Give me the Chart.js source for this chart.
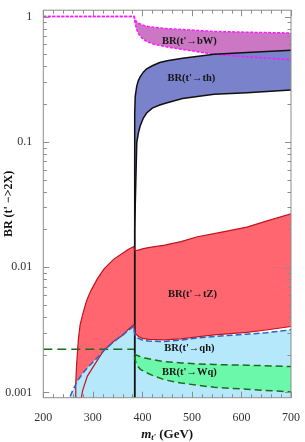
<!DOCTYPE html>
<html><head><meta charset="utf-8">
<script src="https://cdn.jsdelivr.net/npm/chart.js@4.4.1/dist/chart.umd.min.js"></script>
<style>html,body{margin:0;padding:0;background:#fff;}canvas{display:block;}</style>
</head><body>
<canvas id="c" width="305" height="442"></canvas>
<script>
// ---- axis ranges / ticks ----
const Y_MIN = 0.000908, Y_MAX = 1.125;
const BELOW = 0.0008; // value just under the visible axis (curve leaves the frame)
const xTicks = [200, 300, 400, 500, 600, 700];
const yTicks = [0.001, 0.01, 0.1, 1];

// ---- BR(t' -> bW) band ----
const bwX     = [200, 383.5, 385, 388, 392, 398, 405, 412, 425, 452, 478, 511, 545, 611, 700];
const bwUpper = [1, 1, 0.96, 0.91, 0.885, 0.865, 0.845, 0.835, 0.82, 0.80, 0.79, 0.775, 0.762, 0.75, 0.74];
const bwLower = [1, 1, 0.90, 0.80, 0.73, 0.68, 0.645, 0.625, 0.60, 0.57, 0.55, 0.525, 0.50, 0.478, 0.453];

// ---- BR(t' -> th) band ----
const thX     = [383.6, 384, 385, 385.5, 388.7, 392, 395.5, 402, 408.6, 420, 435, 450, 481, 545, 611, 700];
const thUpper = [BELOW, 0.06, 0.17, 0.23, 0.28, 0.31, 0.33, 0.36, 0.383, 0.405, 0.43, 0.445, 0.465, 0.50, 0.517, 0.539];
const thLower = [BELOW, 0.004, 0.02, 0.03, 0.099, 0.118, 0.134, 0.155, 0.17, 0.186, 0.197, 0.205, 0.222, 0.24, 0.247, 0.26];

// ---- BR(t' -> tZ) band ----
const tzX     = [264.4, 265.5, 267, 269, 271, 274.3, 279.5, 283, 286.2, 289, 296.2, 309.3, 322.6, 342.4, 362.3, 372, 382.5, 384, 386, 392, 400, 412, 445, 478, 511, 545, 611, 650, 700];
const tzUpper = [BELOW, 0.0012, 0.0016, 0.0021, 0.0027, 0.00346, 0.0042, 0.0047, 0.0052, 0.0056, 0.0065, 0.0081, 0.0097, 0.0116, 0.0131, 0.0139, 0.0146, 0.0138, 0.0136, 0.0137, 0.0140, 0.0143, 0.0150, 0.0160, 0.0175, 0.0185, 0.0209, 0.0233, 0.0266];
const tzLower = [BELOW, BELOW, BELOW, BELOW, BELOW, BELOW, 0.00104, 0.00115, 0.00125, 0.00135, 0.0015, 0.00181, 0.00218, 0.00256, 0.0029, 0.0032, 0.00346, 0.0031, 0.00295, 0.0028, 0.0027, 0.00265, 0.00263, 0.00268, 0.00278, 0.00288, 0.00302, 0.00315, 0.00336];

// ---- BR(t' -> qh) upper edge (band reaches below the axis) ----
const qhX     = [247, 259.6, 269.6, 279.5, 289.4, 309.3, 322.6, 342.5, 355.7, 370, 382.5, 384, 386, 392, 400, 412, 445, 478, 511, 545, 611, 650, 700];
const qhUpper = [BELOW, 0.00104, 0.00125, 0.00142, 0.00158, 0.0019, 0.00216, 0.00255, 0.0028, 0.0031, 0.00336, 0.0030, 0.00285, 0.0027, 0.00262, 0.00257, 0.00255, 0.00262, 0.00272, 0.0028, 0.00292, 0.0030, 0.00316];

// ---- BR(t' -> Wq) ----
const wqFlatX = [200, 383];
const wqFlat  = [0.00221, 0.00221];
const wqX     = [383.8, 386, 390, 396, 405, 418, 445, 478, 511, 545, 611, 700];
const wqUpper = [0.00205, 0.0020, 0.00197, 0.00193, 0.00188, 0.00184, 0.00176, 0.00172, 0.00169, 0.00167, 0.00165, 0.00161];
const wqLower = [0.00195, 0.00178, 0.00163, 0.00153, 0.00146, 0.00138, 0.00126, 0.00119, 0.00114, 0.0011, 0.00106, 0.00101];

// ---- in-plot labels (text + anchor in data coordinates) ----
const bandLabels = ["BR(t'\u2192bW)", "BR(t'\u2192th)", "BR(t'\u2192tZ)", "BR(t'\u2192qh)", "BR(t'\u2192Wq)"];
const labelX = [495, 499, 501, 495, 495];
const labelY = [0.63, 0.324, 0.0061, 0.00226, 0.00144];

const SERIF = '"Liberation Serif", "Times New Roman", serif';
const pts = (xs, ys) => xs.map((v, i) => ({x: v, y: ys[i]}));
function line(xs, ys, o) {
  return Object.assign({data: pts(xs, ys), pointRadius: 0, tension: 0, fill: false, borderWidth: 1.5}, o);
}

const GREEN_L = '#1d6b1d', BLUE_L = '#2a63c4', RED_L = '#c01420', MAG_L = '#ff19ff';
const datasets = [
  line(wqX, wqUpper, {borderColor: GREEN_L, borderDash: [7, 4], fill: '+1', backgroundColor: '#6cf8aa'}),
  line(wqX, wqLower, {borderColor: GREEN_L, borderDash: [7, 4]}),
  line(qhX, qhUpper, {borderColor: BLUE_L, borderDash: [6, 3], fill: 'start', backgroundColor: '#b4e8fa'}),
  line(tzX, tzUpper, {borderColor: RED_L, borderWidth: 1.2, fill: '+1', backgroundColor: '#ff6670'}),
  line(tzX, tzLower, {borderColor: RED_L, borderWidth: 1.2}),
  line(thX, thUpper, {borderColor: '#111', fill: '+1', backgroundColor: '#7a82cc'}),
  line(thX, thLower, {borderColor: '#111'}),
  line(bwX, bwUpper, {borderColor: MAG_L, borderDash: [3, 1.5], fill: '+1', backgroundColor: '#cc77c4'}),
  line(bwX, bwLower, {borderColor: MAG_L, borderDash: [3, 1.5]}),
  line(wqFlatX, wqFlat, {borderColor: GREEN_L, borderDash: [9, 5]})
];

const framePlugin = {
  id: 'frame',
  afterDraw(chart) {
    const {ctx, chartArea: a, scales: {x, y}} = chart;
    ctx.save();
    ctx.strokeStyle = '#8c8c8c';
    ctx.lineWidth = 1;
    ctx.strokeRect(a.left, a.top, a.right - a.left, a.bottom - a.top);
    ctx.beginPath();
    for (let v = 200; v <= 700; v += 20) {
      const px = Math.round(x.getPixelForValue(v)) + 0.5;
      const len = v % 100 === 0 ? 6 : 3.5;
      ctx.moveTo(px, a.bottom); ctx.lineTo(px, a.bottom - len);
      ctx.moveTo(px, a.top); ctx.lineTo(px, a.top + len);
    }
    for (let d = -4; d <= 0; d++) {
      for (let k = 1; k <= 9; k++) {
        const v = k * Math.pow(10, d);
        if (v < Y_MIN || v > Y_MAX) continue;
        const py = Math.round(y.getPixelForValue(v)) + 0.5;
        const len = k === 1 ? 6 : 3.5;
        ctx.moveTo(a.left, py); ctx.lineTo(a.left + len, py);
        ctx.moveTo(a.right, py); ctx.lineTo(a.right - len, py);
      }
    }
    ctx.stroke();

    // band labels
    ctx.fillStyle = '#151515';
    ctx.font = 'bold 10.5px ' + SERIF;
    ctx.textAlign = 'center';
    ctx.textBaseline = 'middle';
    bandLabels.forEach((t, i) => ctx.fillText(t, x.getPixelForValue(labelX[i]), y.getPixelForValue(labelY[i])));

    // x-axis title  m_t' (GeV)
    const parts = [
      {t: 'm', f: 'italic bold 13px ' + SERIF, dy: 0},
      {t: "t'", f: 'italic bold 8.5px ' + SERIF, dy: 2.5},
      {t: ' (GeV)', f: 'bold 13px ' + SERIF, dy: 0}
    ];
    let w = 0;
    parts.forEach(p => { ctx.font = p.f; p.w = ctx.measureText(p.t).width; w += p.w; });
    let cx = (a.left + a.right) / 2 - w / 2;
    ctx.textAlign = 'left';
    ctx.textBaseline = 'alphabetic';
    parts.forEach(p => { ctx.font = p.f; ctx.fillText(p.t, cx, 437.5 + p.dy); cx += p.w; });
    ctx.restore();
  }
};

new Chart(document.getElementById('c'), {
  type: 'line',
  data: {datasets},
  options: {
    responsive: false,
    animation: false,
    layout: {padding: {top: 2, right: 10, left: 0, bottom: 0}},
    elements: {point: {radius: 0}, line: {tension: 0}},
    scales: {
      x: {
        type: 'linear', min: 200, max: 700,
        afterBuildTicks: s => { s.ticks = xTicks.map(v => ({value: v})); },
        ticks: {color: '#333', font: {family: SERIF, size: 12}, padding: 5, maxRotation: 0, autoSkip: false,
                callback: v => String(v)},
        grid: {display: false},
        border: {display: false},
        afterFit: s => { s.height = 44.3; }
      },
      y: {
        type: 'logarithmic', min: Y_MIN, max: Y_MAX,
        afterBuildTicks: s => { s.ticks = yTicks.map(v => ({value: v})); },
        ticks: {color: '#333', font: {family: SERIF, size: 12}, padding: 3, autoSkip: false,
                callback: v => String(v)},
        grid: {display: false},
        border: {display: false},
        title: {display: true, text: "BR (t' \u2212>2X)", color: '#111',
                font: {family: SERIF, size: 12, weight: 'bold'}, padding: {top: 2, bottom: 0}},
        afterFit: s => { s.width = 43.3; }
      }
    },
    plugins: {
      legend: {display: false},
      tooltip: {enabled: false},
      filler: {drawTime: 'beforeDatasetsDraw'}
    }
  },
  plugins: [framePlugin]
});
</script>
</body></html>
